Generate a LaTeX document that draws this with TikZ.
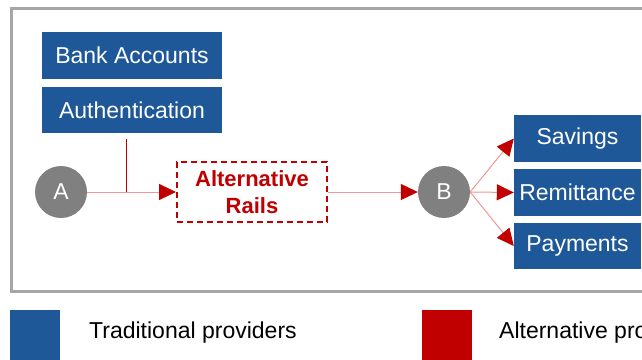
\documentclass[tikz,border=0pt]{standalone}
\usepackage{fontspec}
\setmainfont{Liberation Sans}
\usetikzlibrary{arrows.meta}
\definecolor{tradblue}{RGB}{30,88,153}
\definecolor{altred}{RGB}{192,0,0}
\definecolor{hubgray}{RGB}{128,128,128}
\definecolor{framegray}{RGB}{166,166,166}
\definecolor{connpink}{RGB}{240,150,150}
\tikzset{
  box/.style={rectangle,fill=tradblue,text=white,minimum width=180pt,minimum height=47pt,inner sep=0pt,font=\fontsize{23}{27}\selectfont},
  hub/.style={circle,fill=hubgray,text=white,minimum size=52pt,inner sep=0pt,font=\fontsize{23}{27}\selectfont},
  altbox/.style={rectangle,draw=altred,line width=2pt,dash pattern=on 6pt off 4pt,text=altred,align=center,minimum width=150pt,minimum height=60pt,inner sep=0pt,font=\fontsize{22}{27}\selectfont\bfseries},
  conn/.style={draw=connpink,line width=1pt,-{Triangle[length=17pt,width=16pt,color=altred]}},
  legend/.style={anchor=west,inner sep=0pt,font=\fontsize{23}{27}\selectfont}
}
\begin{document}
\begin{tikzpicture}[x=1pt,y=-1pt]
    \clip (0,0) rectangle (642,359);
    \draw[framegray,line width=3pt] (11.5,8.5) rectangle (700,291);

    \node[box] (bank) at (132,55.5) {Bank Accounts};
    \node[box,minimum height=46pt] (auth) at (132,110) {Authentication};
    \node[hub] (a) at (61,192) {A};
    \node[altbox] (rails) at (252,192) {Alternative\\Rails};
    \node[hub] (b) at (444,192) {B};
    \node[box,minimum width=127pt] (sav) at (577.5,138.5) {Savings};
    \node[box,minimum width=127pt] (rem) at (577.5,192.5) {Remittance};
    \node[box,minimum width=127pt,minimum height=46pt] (pay) at (577.5,246) {Payments};

    \coordinate (join) at (126,192);
    \draw[altred,line width=1pt] ([yshift=-6pt]auth.south -| join) -- (join);
    \draw[conn] (a) -- (rails);
    \draw[conn] (rails) -- (b);
    \draw[conn] (b.east) -- (sav.west);
    \draw[conn] (b.east) -- (rem.west);
    \draw[conn] (b.east) -- (pay.west);

    % legend
    \fill[tradblue] (10,310) rectangle (60,365);
    \node[legend] (tradlabel) at (89,333) {Traditional providers};
    \fill[altred] (422,310) rectangle (472,365);
    \node[legend] (altlabel) at (499,333) {Alternative providers};
\end{tikzpicture}
\end{document}
